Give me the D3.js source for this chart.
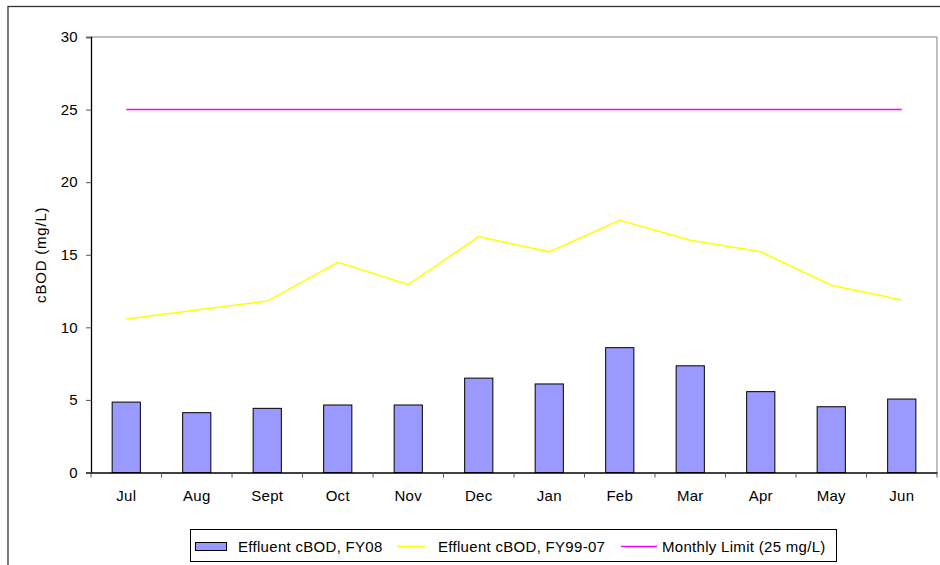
<!DOCTYPE html>
<html>
<head>
<meta charset="utf-8">
<script src="https://cdn.jsdelivr.net/npm/d3@7"></script>
<style>
  body { margin: 0; background: #fff; }
  text { font-family: "Liberation Sans", Arial, sans-serif; fill: #000; letter-spacing: 0.3px; }
</style>
</head>
<body>
<script>
var months = ["Jul", "Aug", "Sept", "Oct", "Nov", "Dec", "Jan", "Feb", "Mar", "Apr", "May", "Jun"];
var fy08 = [4.85, 4.12, 4.42, 4.65, 4.65, 6.5, 6.1, 8.6, 7.35, 5.57, 4.53, 5.06];
var fy9907 = [10.57, 11.2, 11.81, 14.48, 12.95, 16.25, 15.2, 17.37, 16.0, 15.2, 12.9, 11.88];
var monthlyLimit = [25, 25, 25, 25, 25, 25, 25, 25, 25, 25, 25, 25];
var yTicks = [0, 5, 10, 15, 20, 25, 30];
var legendLabels = ["Effluent cBOD, FY08", "Effluent cBOD, FY99-07", "Monthly Limit (25 mg/L)"];

var width = 940, height = 565;
var plot = { left: 91, right: 937, top: 37, bottom: 472.5 };
var fontSize = 15;

var svg = d3.select("body").append("svg")
    .attr("width", width)
    .attr("height", height);

// outer chart frame
svg.append("rect")
    .attr("x", 8).attr("y", 6.5)
    .attr("width", 940).attr("height", 570)
    .attr("fill", "none")
    .attr("stroke", "#333")
    .attr("stroke-width", 1.3);

var x = d3.scaleBand()
    .domain(months)
    .range([plot.left, plot.right]);

var y = d3.scaleLinear()
    .domain([0, 30])
    .range([plot.bottom, plot.top]);

// plot area border (top and right)
svg.append("path")
    .attr("d", "M" + plot.left + "," + plot.top + "H" + plot.right + "V" + plot.bottom)
    .attr("fill", "none")
    .attr("stroke", "#808080")
    .attr("stroke-width", 1);

// bars
var barW = x.bandwidth() * 0.4;
svg.selectAll(".bar")
    .data(fy08)
    .enter().append("rect")
    .attr("class", "bar")
    .attr("x", function (d, i) { return x(months[i]) + (x.bandwidth() - barW) / 2; })
    .attr("y", function (d) { return y(d); })
    .attr("width", barW)
    .attr("height", function (d) { return y(0) - y(d); })
    .attr("fill", "#9999ff")
    .attr("stroke", "#000")
    .attr("stroke-width", 1);

var line = d3.line()
    .x(function (d, i) { return x(months[i]) + x.bandwidth() / 2; })
    .y(function (d) { return y(d); });

svg.append("path")
    .datum(fy9907)
    .attr("d", line)
    .attr("fill", "none")
    .attr("stroke", "#ffff00")
    .attr("stroke-width", 1.5);

svg.append("path")
    .datum(monthlyLimit)
    .attr("d", line)
    .attr("fill", "none")
    .attr("stroke", "#ff00ff")
    .attr("stroke-width", 1.5);

// y axis
var yAxis = svg.append("g")
    .attr("transform", "translate(" + plot.left + ",0)")
    .call(d3.axisLeft(y).tickValues(yTicks).tickSize(5).tickPadding(8));
yAxis.select(".domain").attr("stroke", "#000").attr("stroke-width", 1.3);
yAxis.selectAll(".tick line").attr("stroke", "#555");
yAxis.selectAll("text").attr("font-size", fontSize).style("font-family", "Liberation Sans, Arial, sans-serif");

// x axis
var xAxis = svg.append("g")
    .attr("transform", "translate(0," + plot.bottom + ")")
    .call(d3.axisBottom(x).tickSize(0).tickPadding(18));
xAxis.select(".domain").attr("stroke", "#000").attr("stroke-width", 1.3);
xAxis.selectAll("text").attr("font-size", fontSize).style("font-family", "Liberation Sans, Arial, sans-serif");

// x tick marks at category boundaries
svg.append("g").selectAll("line")
    .data(months.concat(["end"]))
    .enter().append("line")
    .attr("x1", function (d, i) { return plot.left + i * x.step(); })
    .attr("x2", function (d, i) { return plot.left + i * x.step(); })
    .attr("y1", plot.bottom)
    .attr("y2", plot.bottom + 5)
    .attr("stroke", "#555");

// y axis title
svg.append("text")
    .attr("transform", "translate(46," + ((plot.top + plot.bottom) / 2) + ") rotate(-90)")
    .attr("text-anchor", "middle")
    .attr("font-size", fontSize)
    .style("letter-spacing", "0.8px")
    .text("cBOD (mg/L)");

// legend
var legend = svg.append("g");
legend.append("rect")
    .attr("x", 190.5).attr("y", 529.5)
    .attr("width", 646).attr("height", 32)
    .attr("fill", "#fff")
    .attr("stroke", "#000")
    .attr("stroke-width", 1);

legend.append("rect")
    .attr("x", 195.5).attr("y", 542.5)
    .attr("width", 31).attr("height", 8)
    .attr("fill", "#9999ff")
    .attr("stroke", "#000")
    .attr("stroke-width", 1);
legend.append("text").attr("x", 238).attr("y", 551.5).attr("font-size", fontSize).text(legendLabels[0]);

legend.append("line")
    .attr("x1", 397).attr("x2", 425).attr("y1", 546.5).attr("y2", 546.5)
    .attr("stroke", "#ffff00").attr("stroke-width", 1.5);
legend.append("text").attr("x", 438).attr("y", 551.5).attr("font-size", fontSize).text(legendLabels[1]);

legend.append("line")
    .attr("x1", 621).attr("x2", 657).attr("y1", 546.5).attr("y2", 546.5)
    .attr("stroke", "#ff00ff").attr("stroke-width", 1.5);
legend.append("text").attr("x", 662).attr("y", 551.5).attr("font-size", fontSize).text(legendLabels[2]);
</script>
</body>
</html>
